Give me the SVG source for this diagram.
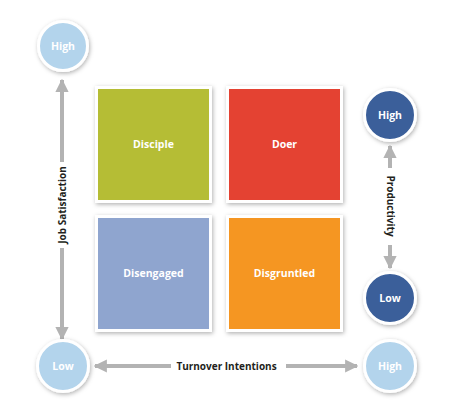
<svg xmlns="http://www.w3.org/2000/svg" width="472" height="401" viewBox="0 0 472 401">
<defs>
<filter id="sh" x="-20%" y="-20%" width="140%" height="140%">
<feDropShadow dx="1" dy="1.5" stdDeviation="2" flood-color="#000" flood-opacity="0.3"/>
</filter>
<marker id="ah" viewBox="0 0 10 10" refX="9" refY="5" markerWidth="3.3" markerHeight="3.3" orient="auto-start-reverse" markerUnits="strokeWidth">
<path d="M0,0 L10,5 L0,10 z" fill="#b3b3b3"/>
</marker>
<style>
.sq{stroke:#fff;stroke-width:3;filter:url(#sh)}
.c1{fill:#b3d4ec;stroke:#fff;stroke-width:3;filter:url(#sh)}
.c2{fill:#3b5f9a;stroke:#fff;stroke-width:3;filter:url(#sh)}
.t{font-family:"Open Sans","Liberation Sans",sans-serif;font-weight:bold;font-size:10.5px;fill:#fff;text-anchor:middle;dominant-baseline:central}
.lbl{font-family:"Open Sans","Liberation Sans",sans-serif;font-weight:bold;font-size:10px;fill:#231f20;text-anchor:middle;dominant-baseline:central}
.ln{stroke:#b3b3b3;stroke-width:4;fill:none}
</style>
</defs>
<rect width="472" height="401" fill="#fff"/>
<g id="connectors">
<line class="ln" x1="62" y1="162" x2="62" y2="80" marker-end="url(#ah)"/>
<line class="ln" x1="62" y1="248" x2="62" y2="339" marker-end="url(#ah)"/>
<text class="lbl" transform="translate(62,205) rotate(-90)">Job Satisfaction</text>
<line class="ln" x1="171" y1="366" x2="95" y2="366" marker-end="url(#ah)"/>
<line class="ln" x1="286" y1="366" x2="357" y2="366" marker-end="url(#ah)"/>
<text class="lbl" x="226.5" y="366">Turnover Intentions</text>
<line class="ln" x1="390" y1="168" x2="390" y2="146" marker-end="url(#ah)"/>
<line class="ln" x1="390" y1="245" x2="390" y2="268" marker-end="url(#ah)"/>
<text class="lbl" transform="translate(391,206) rotate(90)">Productivity</text>
</g>
<g id="disciple"><rect class="sq" x="96.5" y="87.5" width="114" height="114" fill="#b5bd36"/><text class="t" x="153.5" y="144">Disciple</text></g>
<g id="doer"><rect class="sq" x="227.5" y="87.5" width="114" height="114" fill="#e44332"/><text class="t" x="284.5" y="144">Doer</text></g>
<g id="disengaged"><rect class="sq" x="96.5" y="216.5" width="114" height="114" fill="#8fa5cf"/><text class="t" x="153.5" y="273">Disengaged</text></g>
<g id="disgruntled"><rect class="sq" x="227.5" y="216.5" width="114" height="114" fill="#f59621"/><text class="t" x="284.5" y="273">Disgruntled</text></g>
<g id="js-high"><circle class="c1" cx="63" cy="46" r="24.5"/><text class="t" x="63" y="46">High</text></g>
<g id="js-low"><circle class="c1" cx="63" cy="366" r="25.5"/><text class="t" x="63" y="366">Low</text></g>
<g id="ti-high"><circle class="c1" cx="390" cy="366" r="25.5"/><text class="t" x="390" y="366">High</text></g>
<g id="p-high"><circle class="c2" cx="390" cy="115" r="25.5"/><text class="t" x="390" y="115">High</text></g>
<g id="p-low"><circle class="c2" cx="390" cy="298" r="25.5"/><text class="t" x="390" y="298">Low</text></g>
</svg>
